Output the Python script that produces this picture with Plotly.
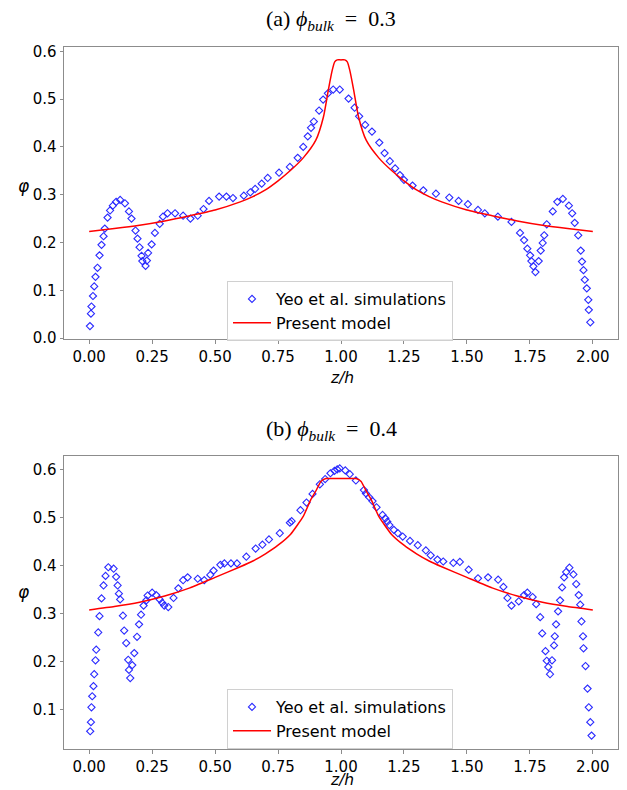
import plotly.graph_objects as go

# ---------------- data ----------------
sim_a_x = [0.003, 0.007, 0.009, 0.015, 0.020, 0.025, 0.033, 0.041, 0.049, 0.057, 0.062, 0.073,
           0.083, 0.094, 0.107, 0.123, 0.142, 0.158, 0.168, 0.184, 0.192, 0.200, 0.208, 0.211,
           0.224, 0.229, 0.234, 0.248, 0.261, 0.280, 0.293, 0.311, 0.341, 0.373, 0.402, 0.431,
           0.454, 0.476, 0.516, 0.545, 0.571, 0.614, 0.640, 0.659, 0.685, 0.709, 0.754, 0.797,
           0.828, 0.850, 0.868, 0.881, 0.892, 0.913, 0.929, 0.948, 0.969, 0.995, 1.030, 1.054,
           1.072, 1.096, 1.123, 1.152, 1.173, 1.194, 1.215, 1.234, 1.250, 1.284, 1.327, 1.377,
           1.430, 1.467, 1.504, 1.544, 1.571, 1.623, 1.677, 1.711, 1.727, 1.740, 1.751, 1.756,
           1.764, 1.772, 1.785, 1.793, 1.801, 1.807, 1.817, 1.841, 1.859, 1.881, 1.905, 1.918,
           1.928, 1.942, 1.952, 1.957, 1.963, 1.968, 1.976, 1.982, 1.984, 1.990]
sim_a_y = [0.025, 0.051, 0.066, 0.088, 0.108, 0.128, 0.147, 0.173, 0.195, 0.213, 0.229, 0.252,
           0.267, 0.277, 0.285, 0.289, 0.282, 0.265, 0.250, 0.225, 0.208, 0.190, 0.172, 0.161,
           0.151, 0.162, 0.178, 0.196, 0.220, 0.239, 0.254, 0.261, 0.261, 0.256, 0.250, 0.256,
           0.270, 0.287, 0.296, 0.296, 0.293, 0.298, 0.305, 0.312, 0.323, 0.335, 0.346, 0.358,
           0.377, 0.400, 0.422, 0.440, 0.453, 0.476, 0.499, 0.512, 0.520, 0.520, 0.501, 0.482,
           0.464, 0.446, 0.432, 0.409, 0.387, 0.370, 0.355, 0.341, 0.331, 0.319, 0.309, 0.302,
           0.294, 0.287, 0.280, 0.268, 0.261, 0.254, 0.243, 0.220, 0.205, 0.187, 0.173, 0.161,
           0.150, 0.138, 0.161, 0.183, 0.199, 0.215, 0.238, 0.265, 0.285, 0.291, 0.277, 0.261,
           0.241, 0.215, 0.183, 0.160, 0.142, 0.122, 0.104, 0.080, 0.059, 0.033]

model_a_x = [0.0, 0.1, 0.2, 0.3, 0.4, 0.5, 0.6, 0.65, 0.7, 0.75, 0.8, 0.85, 0.9, 0.93, 0.95,
             0.965, 0.975, 0.985, 1.0, 1.015, 1.025, 1.035, 1.05, 1.07, 1.1, 1.15, 1.2, 1.25,
             1.3, 1.35, 1.4, 1.5, 1.6, 1.7, 1.8, 1.9, 2.0]
model_a_y = [0.223, 0.229, 0.236, 0.245, 0.256, 0.268, 0.285, 0.296, 0.310, 0.329, 0.351, 0.377,
             0.414, 0.462, 0.520, 0.560, 0.578, 0.582, 0.582, 0.582, 0.578, 0.560, 0.520, 0.462,
             0.414, 0.377, 0.351, 0.329, 0.310, 0.296, 0.285, 0.268, 0.256, 0.245, 0.236, 0.229,
             0.223]

sim_b_x = [0.004, 0.007, 0.009, 0.012, 0.017, 0.020, 0.025, 0.028, 0.036, 0.041, 0.049, 0.057,
           0.065, 0.076, 0.097, 0.107, 0.113, 0.118, 0.123, 0.134, 0.139, 0.147, 0.155, 0.158,
           0.163, 0.171, 0.179, 0.190, 0.198, 0.206, 0.216, 0.227, 0.232, 0.250, 0.266, 0.280,
           0.290, 0.298, 0.314, 0.335, 0.354, 0.373, 0.391, 0.431, 0.457, 0.481, 0.494, 0.521,
           0.537, 0.563, 0.587, 0.624, 0.661, 0.688, 0.714, 0.757, 0.797, 0.804, 0.839, 0.863,
           0.887, 0.916, 0.937, 0.958, 0.974, 0.985, 0.995, 1.017, 1.035, 1.059, 1.091, 1.099,
           1.112, 1.125, 1.141, 1.165, 1.176, 1.184, 1.192, 1.210, 1.226, 1.245, 1.274, 1.305,
           1.337, 1.356, 1.383, 1.406, 1.446, 1.472, 1.507, 1.544, 1.584, 1.624, 1.645, 1.661,
           1.677, 1.706, 1.727, 1.740, 1.761, 1.775, 1.791, 1.799, 1.812, 1.817, 1.823, 1.830,
           1.838, 1.846, 1.849, 1.854, 1.862, 1.870, 1.878, 1.886, 1.894, 1.907, 1.923, 1.934,
           1.944, 1.950, 1.955, 1.961, 1.963, 1.971, 1.979, 1.984, 1.990, 1.995]
sim_b_y = [0.055, 0.074, 0.105, 0.128, 0.149, 0.174, 0.203, 0.225, 0.261, 0.295, 0.332, 0.359,
           0.379, 0.397, 0.394, 0.377, 0.359, 0.342, 0.330, 0.296, 0.265, 0.239, 0.204, 0.183,
           0.166, 0.193, 0.218, 0.252, 0.278, 0.298, 0.317, 0.328, 0.338, 0.344, 0.339, 0.330,
           0.323, 0.317, 0.314, 0.333, 0.353, 0.370, 0.376, 0.373, 0.370, 0.381, 0.390, 0.402,
           0.405, 0.405, 0.405, 0.419, 0.436, 0.444, 0.455, 0.468, 0.490, 0.493, 0.516, 0.532,
           0.550, 0.570, 0.581, 0.593, 0.598, 0.601, 0.603, 0.599, 0.591, 0.578, 0.558, 0.551,
           0.543, 0.535, 0.522, 0.506, 0.499, 0.492, 0.485, 0.475, 0.468, 0.461, 0.452, 0.443,
           0.432, 0.422, 0.413, 0.409, 0.406, 0.408, 0.392, 0.374, 0.376, 0.371, 0.356, 0.333,
           0.317, 0.326, 0.339, 0.344, 0.335, 0.320, 0.293, 0.259, 0.222, 0.202, 0.189, 0.174,
           0.203, 0.234, 0.253, 0.278, 0.305, 0.328, 0.355, 0.376, 0.387, 0.396, 0.382, 0.362,
           0.339, 0.319, 0.284, 0.253, 0.228, 0.191, 0.144, 0.105, 0.074, 0.046]

model_b_x = [0.0, 0.1, 0.2, 0.3, 0.4, 0.5, 0.6, 0.65, 0.7, 0.75, 0.8, 0.85, 0.88, 0.9, 0.92,
             0.94, 1.0, 1.06, 1.08, 1.1, 1.12, 1.15, 1.2, 1.25, 1.3, 1.35, 1.4, 1.5, 1.6, 1.7,
             1.8, 1.9, 2.0]
model_b_y = [0.308, 0.315, 0.324, 0.337, 0.354, 0.376, 0.398, 0.410, 0.425, 0.443, 0.466, 0.503,
             0.538, 0.556, 0.576, 0.582, 0.582, 0.582, 0.576, 0.556, 0.538, 0.503, 0.466, 0.443,
             0.425, 0.410, 0.398, 0.376, 0.354, 0.337, 0.324, 0.315, 0.308]

x_ticks = [0.0, 0.25, 0.5, 0.75, 1.0, 1.25, 1.5, 1.75, 2.0]
x_tick_labels = ["0.00", "0.25", "0.50", "0.75", "1.00", "1.25", "1.50", "1.75", "2.00"]
ya_ticks = [0.0, 0.1, 0.2, 0.3, 0.4, 0.5, 0.6]
yb_ticks = [0.1, 0.2, 0.3, 0.4, 0.5, 0.6]

sim_name = "Yeo et al. simulations"
model_name = "Present model"
title_a = "(a) <i>ϕ</i><sub><i>bulk</i></sub>\u00a0\u00a0=\u00a0\u00a00.3"
title_b = "(b) <i>ϕ</i><sub><i>bulk</i></sub>\u00a0\u00a0=\u00a0\u00a00.4"

# ---------------- figure ----------------
W, H = 627, 790
ML, MR, MT, MB = 64, 9, 47, 41
PH = H - MT - MB

def py(Y):
    return (H - MB - Y) / PH

def px(X):
    return (X - ML) / (W - ML - MR)

fig = go.Figure()
marker_style = dict(symbol="diamond-open", size=5.5, color="#2a2aff", line=dict(width=1.1, color="#2a2aff"))

fig.add_trace(go.Scatter(x=sim_a_x, y=sim_a_y, mode="markers", name=sim_name, marker=marker_style,
                         xaxis="x", yaxis="y", legend="legend"))
fig.add_trace(go.Scatter(x=model_a_x, y=model_a_y, mode="lines", name=model_name,
                         line=dict(color="red", width=1.5, shape="spline", smoothing=0.6),
                         xaxis="x", yaxis="y", legend="legend"))
fig.add_trace(go.Scatter(x=sim_b_x, y=sim_b_y, mode="markers", name=sim_name, marker=marker_style,
                         xaxis="x2", yaxis="y2", legend="legend2"))
fig.add_trace(go.Scatter(x=model_b_x, y=model_b_y, mode="lines", name=model_name,
                         line=dict(color="red", width=1.5, shape="spline", smoothing=0.4),
                         xaxis="x2", yaxis="y2", legend="legend2"))

axis_common = dict(showline=True, mirror=True, linecolor="#8c8c8c", linewidth=1,
                   ticks="outside", ticklen=3.5, tickwidth=1, tickcolor="#8c8c8c",
                   showgrid=False, zeroline=False,
                   tickfont=dict(family="DejaVu Sans", size=15, color="black"))

legend_common = dict(xanchor="left", yanchor="top", bordercolor="#d0d0d0", borderwidth=1,
                     bgcolor="rgba(255,255,255,0.8)", itemwidth=38,
                     font=dict(family="DejaVu Sans", size=16, color="black"), tracegroupgap=0)

fig.update_layout(
    width=W, height=H,
    margin=dict(l=ML, r=MR, t=MT, b=MB),
    paper_bgcolor="white", plot_bgcolor="white",
    font=dict(family="DejaVu Sans", color="black"),
    xaxis=dict(domain=[0, 1], anchor="y", range=[-0.1, 2.1], tickvals=x_ticks,
               ticktext=x_tick_labels, **axis_common),
    yaxis=dict(domain=[py(339), 1.0], anchor="x", range=[-0.002, 0.609], tickvals=ya_ticks,
               ticktext=[f"{v:.1f}" for v in ya_ticks], **axis_common),
    xaxis2=dict(domain=[0, 1], anchor="y2", range=[-0.1, 2.1], tickvals=x_ticks,
                ticktext=x_tick_labels, **axis_common),
    yaxis2=dict(domain=[0, py(456)], anchor="x2", range=[0.018, 0.629], tickvals=yb_ticks,
                ticktext=[f"{v:.1f}" for v in yb_ticks], **axis_common),
    legend=dict(x=px(227), y=py(281), **legend_common),
    legend2=dict(x=px(227), y=py(689), **legend_common),
    showlegend=True,
)

ann_font_title = dict(family="Liberation Serif", size=22, color="black")
ann_font_lab = dict(family="DejaVu Sans", size=15.5, color="black")
annotations = [
    dict(text=title_a, x=px(331), y=py(20), xref="paper", yref="paper", showarrow=False,
         xanchor="center", yanchor="middle", font=ann_font_title),
    dict(text=title_b, x=px(331), y=py(430), xref="paper", yref="paper", showarrow=False,
         xanchor="center", yanchor="middle", font=ann_font_title),
    dict(text="<i>z/h</i>", x=px(342), y=py(378), xref="paper", yref="paper", showarrow=False,
         xanchor="center", yanchor="middle", font=ann_font_lab),
    dict(text="<i>z/h</i>", x=px(342), y=py(790), xref="paper", yref="paper", showarrow=False,
         xanchor="center", yanchor="bottom", borderpad=0, font=ann_font_lab),
    dict(text="<i>φ</i>", x=px(24), y=py(186), xref="paper", yref="paper", showarrow=False,
         xanchor="center", yanchor="middle", font=dict(family="DejaVu Sans", size=17, color="black")),
    dict(text="<i>φ</i>", x=px(24), y=py(592), xref="paper", yref="paper", showarrow=False,
         xanchor="center", yanchor="middle", font=dict(family="DejaVu Sans", size=17, color="black")),
]
fig.update_layout(annotations=annotations)

fig.write_html("out.html")
